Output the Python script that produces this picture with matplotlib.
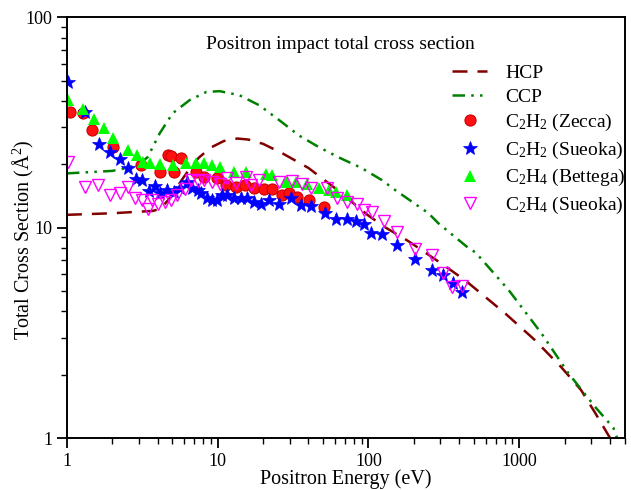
import matplotlib
matplotlib.use("Agg")
import matplotlib.pyplot as plt
from matplotlib.ticker import LogLocator, NullFormatter, FixedLocator, FixedFormatter

plt.rcParams["font.family"] = ["Liberation Serif", "DejaVu Serif"]
plt.rcParams["mathtext.fontset"] = "custom"
plt.rcParams["mathtext.rm"] = "Liberation Serif"
plt.rcParams["mathtext.it"] = "Liberation Serif:italic"

# theory curves
hcp_energy = [1, 2, 3, 3.7, 4.2, 4.8, 5.7, 6.5, 7.5, 9, 11, 13.5, 16, 20, 27, 40,
              60, 100, 130, 185, 300, 440, 810, 1270, 1900, 2570, 3200, 4000]
hcp_sigma = [11.5, 11.7, 11.9, 12.0, 12.3, 13.8, 16.6, 19.0, 21.5, 24.0, 25.8, 26.5,
             26.2, 25.0, 22.5, 19.2, 15.4, 11.4, 10.0, 8.6, 6.8, 5.6, 3.9, 2.92,
             2.17, 1.69, 1.31, 1.0]

ccp_energy = [1, 2, 2.5, 3.0, 3.43, 4.12, 5.02, 6.5, 8.4, 10.3, 13.9, 18.9, 25.6,
              34.6, 47, 64, 90, 123, 150, 250, 290, 450, 515, 850, 1400, 2120,
              3200, 4200, 4450]
ccp_sigma = [18.1, 18.6, 19.2, 20.0, 21.6, 28.0, 34.9, 40.3, 44.1, 44.5, 42.6, 38.1,
             32.4, 27.4, 24.1, 21.5, 19.2, 16.8, 15.1, 11.7, 10.5, 8.1, 7.6, 5.05,
             3.15, 2.03, 1.40, 1.12, 1.0]

# C2H2 Zecca
zecca_energy = [1.05, 1.28, 1.46, 2.01, 3.08, 4.12, 4.65, 4.94, 5.17, 5.67, 7.23,
                8.17, 9.95, 11.4, 13.3, 15.2, 17.5, 20.4, 23.0, 26.8, 29.8, 33.6,
                40.4, 50.7]
zecca_sigma = [35.4, 35.0, 29.1, 24.1, 19.8, 18.4, 22.1, 21.9, 18.4, 21.4, 18.4,
               17.4, 17.2, 16.0, 15.6, 16.0, 15.4, 15.3, 15.3, 14.3, 14.6, 14.0,
               13.5, 12.5]

# C2H2 Sueoka
sueoka2_energy = [1.015, 1.31, 1.63, 1.92, 2.24, 2.53, 2.86, 3.13, 3.48, 3.82, 4.12,
                  4.58, 5.17, 5.6, 6.3, 6.8, 7.35, 7.8, 8.5, 9.1, 9.95, 10.7, 11.6,
                  12.9, 14.3, 15.7, 17.5, 19.4, 22.0, 25.6, 30.7, 35.9, 41.5, 51.5,
                  60.9, 72.0, 82.6, 93.0, 104, 122, 154, 205, 262, 311, 366, 414]
sueoka2_sigma = [49.1, 35.4, 24.9, 22.8, 21.1, 19.2, 17.1, 16.8, 14.9, 15.7, 14.6,
                 15.1, 14.7, 15.5, 16.4, 15.5, 15.1, 14.6, 13.9, 13.5, 13.5, 14.3,
                 14.3, 13.9, 13.9, 13.8, 13.2, 13.0, 13.5, 13.0, 13.8, 12.8, 12.6,
                 11.7, 10.96, 10.96, 10.7, 10.4, 9.4, 9.3, 8.25, 7.1, 6.3, 5.95,
                 5.45, 4.94]

# C2H4 Bettega
bettega_energy = [1.015, 1.276, 1.51, 1.76, 2.01, 2.53, 2.90, 3.18, 3.54, 4.12, 5.02,
                  6.21, 7.23, 8.17, 9.22, 10.3, 12.9, 15.5, 21.0, 23.0, 28.4, 33.1,
                  39.2, 47.0, 54.7, 60.9, 72.0]
bettega_sigma = [40.3, 36.6, 32.8, 29.7, 26.6, 23.4, 22.1, 20.5, 20.3, 20.0, 19.8,
                 20.3, 20.3, 20.3, 19.8, 19.4, 18.4, 18.4, 18.0, 17.7, 16.4, 16.4,
                 16.1, 15.5, 15.1, 14.7, 14.3]

# C2H4 Sueoka
sueoka4_energy = [1.015, 1.31, 1.60, 1.92, 2.24, 2.53, 2.81, 3.13, 3.43, 3.65, 4.0,
                  4.44, 4.94, 5.41, 6.03, 6.7, 7.35, 8.17, 9.1, 10.3, 11.6, 13.3,
                  15.5, 16.7, 18.9, 25.6, 31.2, 36.3, 41.5, 52.7, 61.7, 72.0, 83.8,
                  93.0, 105, 126, 154, 205, 262, 311, 360, 414]
sueoka4_sigma = [20.4, 15.6, 15.9, 14.3, 14.6, 15.6, 13.8, 13.5, 12.2, 13.5, 13.0,
                 13.2, 13.5, 14.3, 15.3, 16.8, 16.6, 16.8, 16.4, 16.1, 17.2, 16.3,
                 17.4, 15.9, 16.8, 16.4, 16.6, 16.2, 15.4, 15.4, 13.8, 13.2, 13.0,
                 12.1, 11.8, 10.8, 9.5, 7.9, 7.4, 6.1, 5.2, 5.3]

fig = plt.figure(figsize=(6.31, 4.90), dpi=100)
ax = fig.add_axes([0.106, 0.106, 0.884, 0.859])

ax.plot(hcp_energy, hcp_sigma, color="#800000", linestyle=(0, (6, 4)),
        linewidth=1.8, label="HCP")
ax.plot(ccp_energy, ccp_sigma, color="#008000",
        linestyle=(0, (5, 2.5, 1, 2.5, 1, 2.5)), linewidth=1.8, label="CCP")
ax.plot(zecca_energy, zecca_sigma, linestyle="none", marker="o", markersize=8,
        markerfacecolor="#ff1010", markeredgecolor="#cc0000", markeredgewidth=0.8,
        label="C$_2$H$_2$ (Zecca)")
ax.plot(sueoka2_energy, sueoka2_sigma, linestyle="none", marker="*", markersize=10,
        color="#0000ff", markeredgewidth=0.5, label="C$_2$H$_2$ (Sueoka)")
ax.plot(bettega_energy, bettega_sigma, linestyle="none", marker="^", markersize=8,
        color="#00ff00", markeredgewidth=0, label="C$_2$H$_4$ (Bettega)")
ax.plot(sueoka4_energy, sueoka4_sigma, linestyle="none", marker="v", markersize=8,
        markerfacecolor="none", markeredgecolor="#ff00ff", markeredgewidth=1.0,
        label="C$_2$H$_4$ (Sueoka)")

ax.set_xscale("log")
ax.set_yscale("log")
ax.set_xlim(1, 5000)
ax.set_ylim(1, 100)

ax.xaxis.set_major_locator(FixedLocator([1, 10, 100, 1000]))
ax.xaxis.set_major_formatter(FixedFormatter(["1", "10", "100", "1000"]))
ax.xaxis.set_minor_locator(LogLocator(base=10, subs=range(2, 10)))
ax.xaxis.set_minor_formatter(NullFormatter())
ax.yaxis.set_major_locator(FixedLocator([1, 10, 100]))
ax.yaxis.set_major_formatter(FixedFormatter(["1", "10", "100"]))
ax.yaxis.set_minor_locator(LogLocator(base=10, subs=range(2, 10)))
ax.yaxis.set_minor_formatter(NullFormatter())

ax.tick_params(which="major", direction="out", length=7, width=1.3, labelsize=13)
ax.tick_params(which="minor", direction="out", length=4, width=1.0)
for spine in ax.spines.values():
    spine.set_linewidth(1.4)

ax.set_xlabel("Positron Energy (eV)", fontsize=14.5, labelpad=0)
ax.set_ylabel("Total Cross Section (Å$^2$)", fontsize=14.5)
ax.yaxis.set_label_coords(-0.056, 0.47)

ax.text(0.49, 0.955, "Positron impact total cross section", transform=ax.transAxes,
        ha="center", va="top", fontsize=14)

ax.legend(loc="upper right", bbox_to_anchor=(1.033, 0.93), frameon=False,
          fontsize=14, handlelength=1.8, labelspacing=0.33, handletextpad=0.9,
          numpoints=1)

plt.savefig("out.png", dpi=100)
plt.close()
